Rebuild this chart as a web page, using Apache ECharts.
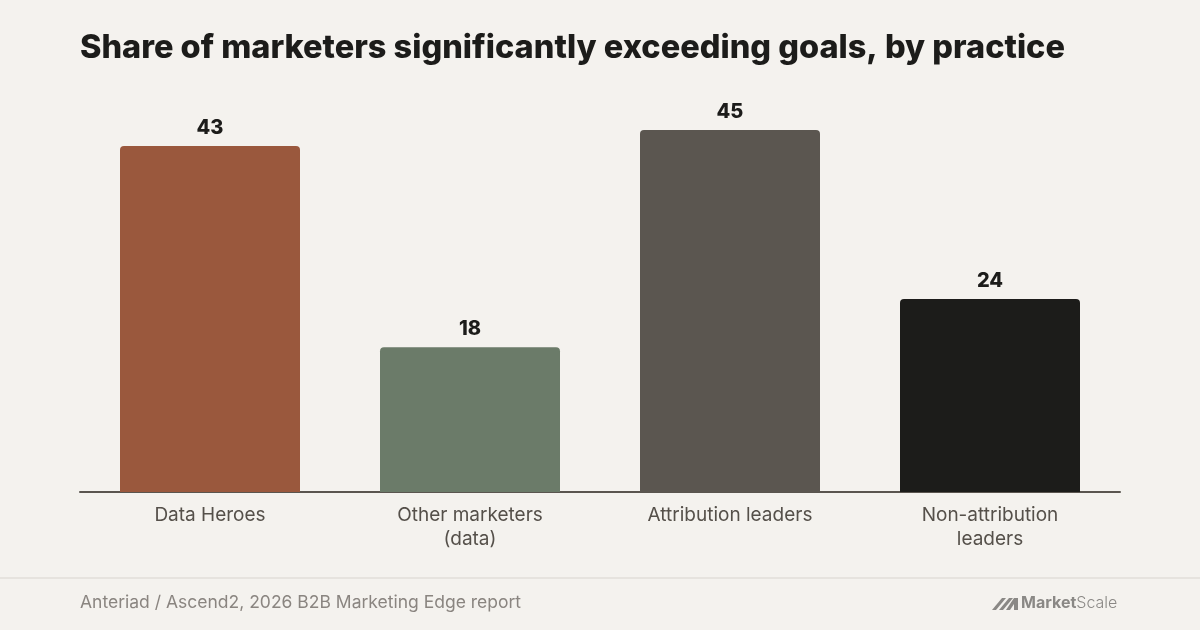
<!DOCTYPE html>
<html><head><meta charset="utf-8">
<script src="https://cdn.jsdelivr.net/npm/echarts@6/dist/echarts.min.js"></script>
<style>html,body{margin:0;padding:0;background:#f4f2ee}#c{width:1200px;height:630px}</style>
</head><body><div id="c"></div>
<script>
const categories = ['Data Heroes', 'Other marketers\n(data)', 'Attribution leaders', 'Non-attribution\nleaders'];
const values = [43, 18, 45, 24];
const barColors = ['#9a583d', '#6b7b69', '#5b5650', '#1c1c1a'];
const titleText = 'Share of marketers significantly exceeding goals, by practice';
const sourceText = 'Anteriad / Ascend2, 2026 B2B Marketing Edge report';

const chart = echarts.init(document.getElementById('c'));
chart.setOption({
  backgroundColor: '#f4f2ee',
  animation: false,
  title: {
    text: titleText, left: 80, top: 32, padding: 0,
    textStyle: { fontFamily: 'Inter', fontWeight: 800, fontSize: 32.5, color: '#1c1c1a' }
  },
  grid: { left: 80, right: 80, top: 130, bottom: 138 },
  xAxis: {
    type: 'category', data: categories,
    axisLine: { lineStyle: { color: '#5a554f', width: 2 } },
    axisTick: { show: false },
    axisLabel: { fontFamily: 'Inter', fontSize: 19, color: '#55504a', margin: 11, lineHeight: 24 }
  },
  yAxis: { type: 'value', min: 0, max: 45, show: false, splitLine: { show: false } },
  series: [{
    type: 'bar', barWidth: 180,
    data: values.map((v, i) => ({ value: v, itemStyle: { color: barColors[i] } })),
    itemStyle: { borderRadius: [4, 4, 0, 0] },
    label: { show: true, position: 'top', distance: 8, fontFamily: 'Inter', fontWeight: 800, fontSize: 20, color: '#1c1c1a' }
  }],
  graphic: [
    { type: 'line', shape: { x1: 0, y1: 578, x2: 1200, y2: 578 }, style: { stroke: '#e6e3de', lineWidth: 2 } },
    { type: 'text', left: 80, top: 594, style: { text: sourceText, fontFamily: 'Inter', fontSize: 17.5, fill: '#8a8580' } },
    { type: 'polygon', shape: { points: [[992,610],[1002,598],[1006,598],[996,610]] }, style: { fill: '#8a8885' } },
    { type: 'polygon', shape: { points: [[999,610],[1009,598],[1013,598],[1003,610]] }, style: { fill: '#8a8885' } },
    { type: 'polygon', shape: { points: [[1006,610],[1014,598],[1018,598],[1018,610],[1014,610],[1014,604],[1010,610]] }, style: { fill: '#8a8885' } },
    { type: 'text', left: 1021, top: 595, style: {
      text: '{a|Market}{b|Scale}',
      rich: {
        a: { fontFamily: 'Inter', fontWeight: 'bold', fontSize: 16, fill: '#8a8885' },
        b: { fontFamily: 'Inter', fontWeight: 300, fontSize: 16, fill: '#8a8885' }
      }
    } }
  ]
});
</script></body></html>
